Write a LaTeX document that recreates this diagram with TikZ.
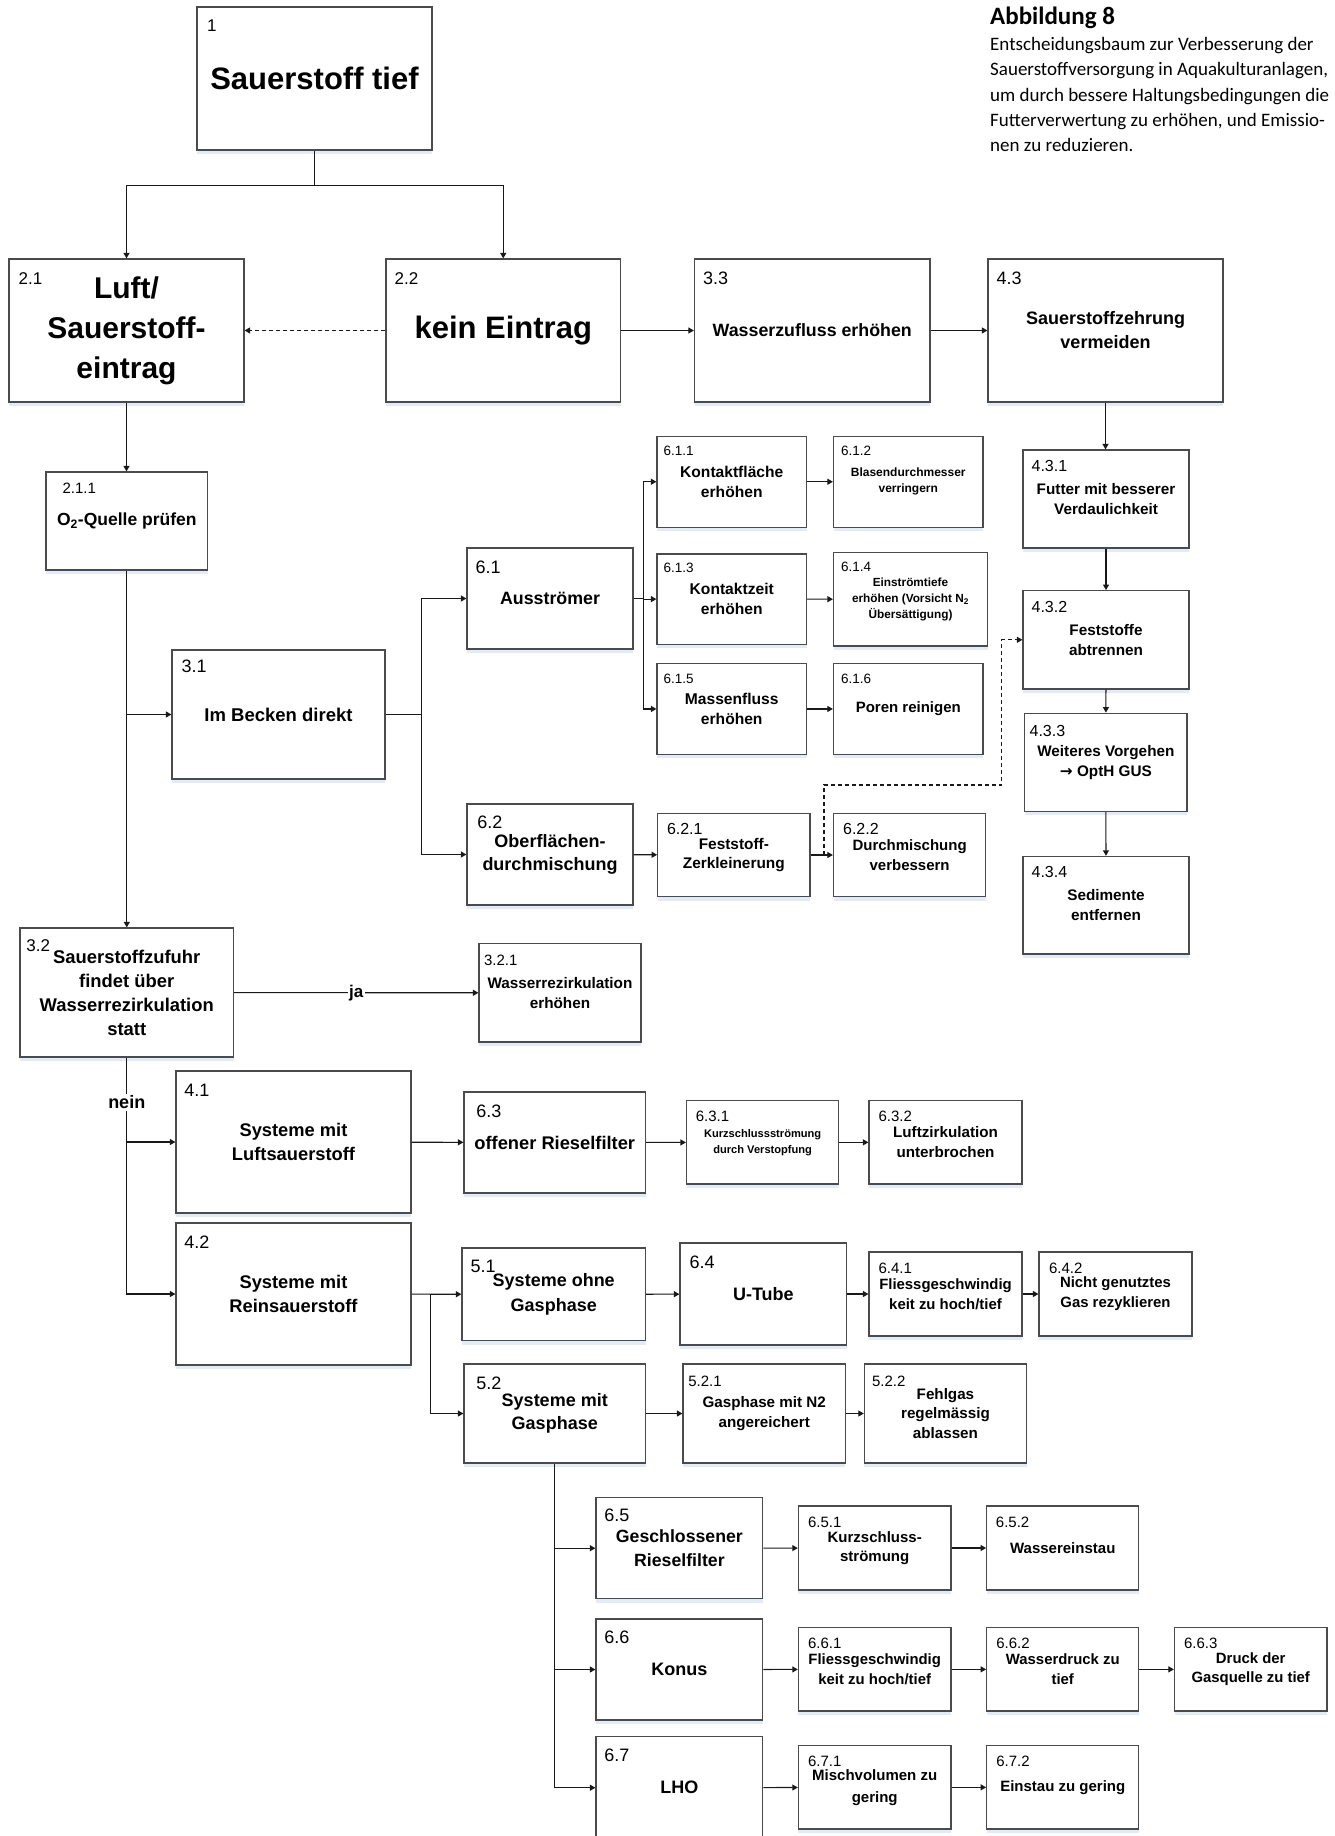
\documentclass[tikz,border=0pt]{standalone}
\usepackage{fontspec}
\setmainfont{Liberation Sans}
\newfontfamily\capfont{Carlito}
\newfontfamily\symfont{DejaVu Sans}
\usetikzlibrary{arrows.meta,shadows,calc}
\definecolor{shadowc}{RGB}{214,226,244}
\definecolor{boxline}{RGB}{75,75,75}
\newcommand\fs[2]{\fontsize{#1}{#2}\selectfont}
\newcommand\mkbox[9]{\node[box, #6, minimum width={(#4-#2)*1pt}, minimum height={(#5-#3)*1pt}, label={[#7]north west:#8}] (#1) at ({(#2+#4)/2},{(#3+#5)/2}) {#9};}
\begin{document}
\begin{tikzpicture}[x=1pt,y=-1pt,
  box/.style={draw=boxline, line width=1.2pt, fill=white, align=center, inner sep=0pt,
    drop shadow={shadow xshift=0pt, shadow yshift=-4pt, fill=shadowc, opacity=0.7, draw=none}},
  f/.style 2 args={font=\bfseries\fs{#1}{#2}},
  lb/.style n args={3}{anchor=north west, inner sep=0pt, xshift=#2pt, yshift=-#3pt, font=\mdseries\fs{#1}{#1}},
  conn/.style={line width=1.1pt, draw=black!90},
  arr/.style={conn, -{Triangle[length=5.5pt,width=6pt]}},
  dsh/.style={dash pattern=on 4pt off 3pt},
  capline/.style={anchor=base west, inner sep=0pt, font=\capfont\fs{19}{25}},
  edgelbl/.style={fill=white, inner sep=1.5pt, font=\bfseries\fs{17}{17}},
]
\useasboundingbox (0,0) rectangle (1334,1836);

% caption
\node[anchor=base west, inner sep=0pt, font=\capfont\bfseries\fs{25}{25}] (capt) at (990,25) {Abbildung 8};
\node[capline] (cap1) at (990,51) {Entscheidungsbaum zur Verbesserung der};
\node[capline] (cap2) at (990,76) {Sauerstoffversorgung in Aquakulturanlagen,};
\node[capline] (cap3) at (990,101) {um durch bessere Haltungsbedingungen die};
\node[capline] (cap4) at (990,126) {Futterverwertung zu erhöhen, und Emissio-};
\node[capline] (cap5) at (990,151) {nen zu reduzieren.};

% boxes
\mkbox{n1}{197}{7}{432}{150}{f={31}{38}}{lb={17}{10.5}{13.7}}{1}{Sauerstoff tief}
\mkbox{n21}{9}{259}{244}{402}{f={30}{40}}{lb={17}{10}{14}}{2.1}{Luft/\\Sauerstoff-\\eintrag}
\mkbox{n22}{386}{259}{620.5}{402}{f={31}{38}}{lb={17}{9}{13.7}}{2.2}{kein Eintrag}
\mkbox{n33}{694.5}{259}{930}{402}{f={17.8}{24}}{lb={18}{9}{13}}{3.3}{Wasserzufluss erhöhen}
\mkbox{n43}{988}{259}{1223}{402}{f={18}{24}}{lb={18}{9}{13}}{4.3}{Sauerstoffzehrung\\vermeiden}
\mkbox{n211}{46}{472}{207.6}{570}{f={17.5}{22}}{lb={15}{17}{11}}{2.1.1}{O\textsubscript{2}-Quelle prüfen}
\mkbox{n31}{172}{650}{385}{779}{f={18.5}{24}}{lb={18}{10}{10.7}}{3.1}{Im Becken direkt}
\mkbox{n61}{467}{548}{633}{649}{f={17.8}{24}}{lb={18}{9}{13.7}}{6.1}{Ausströmer}
\mkbox{n62}{467}{804}{633}{905}{f={18}{23.4}}{lb={18}{10.7}{12.7}}{6.2}{Oberflächen-\\durchmischung}
\mkbox{n611}{657}{436.4}{806.5}{527.1}{f={15.6}{19.6}}{lb={13.5}{7}{9.6}}{6.1.1}{Kontaktfläche\\erhöhen}
\mkbox{n612}{833.5}{436.4}{983}{527.1}{f={12}{16}}{lb={13.5}{8}{9.6}}{6.1.2}{Blasendurchmesser\\verringern}
\mkbox{n613}{657}{553.9}{806.5}{644.3}{f={15.6}{19.6}}{lb={13.5}{7}{10}}{6.1.3}{Kontaktzeit\\erhöhen}
\mkbox{n614}{833.5}{552.5}{987.5}{646}{f={11.8}{16}}{lb={13.5}{8}{9.6}}{6.1.4}{Einströmtiefe\\erhöhen (Vorsicht N\textsubscript{2}\\Übersättigung)}
\mkbox{n615}{657}{663.6}{806.5}{754.3}{f={15.6}{19.6}}{lb={13.5}{7}{10.7}}{6.1.5}{Massenfluss\\erhöhen}
\mkbox{n616}{833.5}{663.6}{983}{754.3}{f={15}{19.6}}{lb={13.5}{8}{10.7}}{6.1.6}{Poren reinigen}
\mkbox{n431}{1023}{450}{1189}{547.9}{f={15.3}{19.7}}{lb={16}{9}{11}}{4.3.1}{Futter mit besserer\\Verdaulichkeit}
\mkbox{n432}{1023}{590.7}{1189}{688.9}{f={15.3}{19.7}}{lb={16}{9}{11.4}}{4.3.2}{Feststoffe\\abtrennen}
\mkbox{n433}{1024.7}{713.2}{1187}{811.4}{f={15.3}{19.7}}{lb={16}{5.3}{12.2}}{4.3.3}{Weiteres Vorgehen\\{\symfont →} OptH GUS}
\mkbox{n434}{1023}{856.4}{1189}{953.9}{f={15.3}{19.7}}{lb={16}{9}{10.7}}{4.3.4}{Sedimente\\entfernen}
\mkbox{n621}{657.7}{813.2}{810}{896.8}{f={15.4}{19.6}}{lb={16}{9.7}{10.4}}{6.2.1}{Feststoff-\\Zerkleinerung}
\mkbox{n622}{833.5}{813.2}{985.7}{896.8}{f={15}{19.6}}{lb={16}{10}{10.4}}{6.2.2}{Durchmischung\\verbessern}
\mkbox{n32}{20}{928}{233.5}{1057}{f={18.4}{24}}{lb={17}{6.8}{12}}{3.2}{Sauerstoffzufuhr\\findet über\\Wasserrezirkulation\\statt}
\mkbox{n321}{479}{943.7}{641}{1042}{f={15.3}{20}}{lb={15}{5.4}{11.3}}{3.2.1}{Wasserrezirkulation\\erhöhen}
\mkbox{n41}{176}{1071}{411}{1213}{f={18.3}{24}}{lb={18}{8.8}{14}}{4.1}{Systeme mit\\Luftsauerstoff}
\mkbox{n42}{176}{1223}{411}{1365}{f={18.3}{24}}{lb={18}{8.8}{13.7}}{4.2}{Systeme mit\\Reinsauerstoff}
\mkbox{n63}{464}{1092}{645.5}{1193}{f={18.3}{24}}{lb={18}{12.8}{13}}{6.3}{offener Rieselfilter}
\mkbox{n51}{462}{1248}{645.5}{1340.7}{f={18}{25}}{lb={18}{9}{13}}{5.1}{Systeme ohne\\Gasphase}
\mkbox{n52}{464}{1364}{645.5}{1463}{f={18}{23.5}}{lb={18}{12.8}{13}}{5.2}{Systeme mit\\Gasphase}
\mkbox{n631}{686.5}{1100.7}{838.8}{1184}{f={11.1}{16}}{lb={15}{9.7}{11}}{6.3.1}{Kurzschlussströmung\\durch Verstopfung}
\mkbox{n632}{869}{1100.7}{1022}{1184}{f={15.2}{20}}{lb={15}{10}{11}}{6.3.2}{Luftzirkulation\\unterbrochen}
\mkbox{n64}{680}{1243}{846.7}{1345}{f={18}{24}}{lb={18}{10}{13.7}}{6.4}{U-Tube}
\mkbox{n641}{869}{1252}{1022}{1336}{f={14.9}{20}}{lb={15}{10}{11.3}}{6.4.1}{Fliessgeschwindig\\keit zu hoch/tief}
\mkbox{n642}{1039}{1252}{1192}{1336}{f={14.9}{20}}{lb={15}{10.5}{11.3}}{6.4.2}{Nicht genutztes\\Gas rezyklieren}
\mkbox{n521}{683}{1364}{845.4}{1463}{f={15.2}{19.3}}{lb={15}{5.7}{12}}{5.2.1}{Gasphase mit N2\\angereichert}
\mkbox{n522}{864.4}{1364}{1026.5}{1463}{f={15.2}{19.5}}{lb={15}{8}{12}}{5.2.2}{Fehlgas\\regelmässig\\ablassen}
\mkbox{n65}{596}{1497.7}{762.8}{1598.7}{f={17.7}{23.3}}{lb={18}{8.8}{11.7}}{6.5}{Geschlossener\\Rieselfilter}
\mkbox{n651}{798.4}{1506}{951}{1590}{f={15}{19.7}}{lb={15}{10}{11.7}}{6.5.1}{Kurzschluss-\\strömung}
\mkbox{n652}{986.7}{1506}{1138.8}{1590}{f={15}{19.7}}{lb={15}{9.6}{11.7}}{6.5.2}{Wassereinstau}
\mkbox{n66}{596}{1619}{762.8}{1720}{f={18}{24}}{lb={18}{8.8}{12.7}}{6.6}{Konus}
\mkbox{n661}{798.4}{1627.7}{951}{1711}{f={14.9}{19.5}}{lb={15}{10}{10.7}}{6.6.1}{Fliessgeschwindig\\keit zu hoch/tief}
\mkbox{n662}{986.7}{1627.7}{1138.8}{1711}{f={14.9}{19.5}}{lb={15}{10}{10.7}}{6.6.2}{Wasserdruck zu\\tief}
\mkbox{n663}{1174.5}{1627.7}{1327}{1711}{f={14.9}{19.5}}{lb={15}{10}{10.7}}{6.6.3}{Druck der\\Gasquelle zu tief}
\mkbox{n67}{596}{1736.7}{762.8}{1838.7}{f={18}{24}}{lb={18}{8.8}{12.3}}{6.7}{LHO}
\mkbox{n671}{798.4}{1745.7}{951}{1829}{f={15}{21.6}}{lb={15}{10}{11}}{6.7.1}{Mischvolumen zu\\gering}
\mkbox{n672}{986.7}{1745.7}{1138.8}{1829}{f={15}{20}}{lb={15}{10}{11}}{6.7.2}{Einstau zu gering}

% connectors
\coordinate (j1) at ($(n1.south)+(0,35)$);
\draw[conn] (n1.south) -- (j1);
\draw[arr] (j1) -| (n21.north);
\draw[arr] (j1) -| (n22.north);
\draw[arr, dsh] (n22) -- (n21);
\draw[arr] (n22) -- (n33);
\draw[arr] (n33) -- (n43);
\draw[arr] (n43.south) -- (n43.south |- n431.north);
\draw[arr] (n431) -- (n432);
\draw[arr] (n432) -- (n433);
\draw[arr] (n433) -- (n434);

\draw[arr] (n21.south) -- (n21.south |- n211.north);
\draw[arr] (n211.south) -- (n211.south |- n32.north);
\draw[arr] (n211.south |- n31.west) -- (n31.west);
\coordinate (j31) at ($(n31.east)+(35.5,0)$);
\draw[conn] (n31.east) -- (j31);
\draw[arr] (j31) |- (n61.west);
\draw[arr] (j31) |- (n62.west);
\coordinate (j61) at ($(n61.east)+(10,0)$);
\draw[conn] (n61.east) -- (j61);
\draw[arr] (j61) |- (n611.west);
\draw[arr] (j61) |- (n613.west);
\draw[arr] (j61) |- (n615.west);
\draw[arr] (n611) -- (n612);
\draw[arr] (n613) -- (n614);
\draw[arr] (n615) -- (n616);
\draw[arr] (n62) -- (n621);
\draw[arr] (n621) -- (n622);
\coordinate (d0) at ($(n621.east)!0.6!(n622.west)$);
\coordinate (d1) at ($(d0)+(0,-70)$);
\coordinate (d2) at ($(d1)+(177.7,0)$);
\draw[arr, dsh] (d0) -- (d1) -- (d2) |- (n432.west);

\draw[arr] (n32) -- node[edgelbl] (lja) {ja} (n321);
\draw[arr] (n32.south) -- node[edgelbl, pos=0.19, font=\bfseries\fs{18}{18}] (lnein) {nein} (n32.south |- n42.west) -- (n42.west);
\draw[arr] (n32.south |- n41.west) -- (n41.west);
\draw[arr] (n41) -- (n63);
\draw[arr] (n63) -- (n631);
\draw[arr] (n631) -- (n632);
\coordinate (j42) at ($(n42.east)+(18.5,0)$);
\draw[arr] (n42) -- (n51);
\draw[arr] (j42) |- (n52.west);
\draw[arr] (n51) -- (n64);
\draw[arr] (n64) -- (n641);
\draw[arr] (n641) -- (n642);
\draw[arr] (n52) -- (n521);
\draw[arr] (n521) -- (n522);
\draw[arr] (n52.south) |- (n67.west);
\draw[arr] (n52.south |- n65.west) -- (n65.west);
\draw[arr] (n52.south |- n66.west) -- (n66.west);
\draw[arr] (n65) -- (n651);
\draw[arr] (n651) -- (n652);
\draw[arr] (n66) -- (n661);
\draw[arr] (n661) -- (n662);
\draw[arr] (n662) -- (n663);
\draw[arr] (n67) -- (n671);
\draw[arr] (n671) -- (n672);
\end{tikzpicture}
\end{document}
